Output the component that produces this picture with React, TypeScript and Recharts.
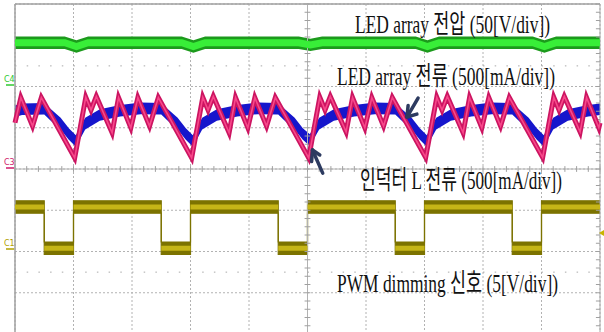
import { ComposedChart, Line, Area, XAxis, YAxis, CartesianGrid, ReferenceLine } from "recharts";

// scope screen in divisions: 10 across, 8 high (-4..4)
const xTicks = [0, 1, 2, 3, 4, 5, 6, 7, 8, 9, 10];
const yTicks = [-4, -3, -2, -1, 0, 1, 2, 3, 4];

// LED array voltage (green)
const greenX = [0, 0.85, 1.05, 1.25, 2.85, 3.05, 3.25, 4.85, 5.05, 5.25, 6.85, 7.05, 7.25, 8.85, 9.05, 9.25, 10];
const greenV = [3.06, 3.06, 2.97, 3.06, 3.06, 2.97, 3.06, 3.06, 3.01, 3.06, 3.06, 2.97, 3.06, 3.06, 2.97, 3.06, 3.06];

// LED array current (blue)
const blueX = [
  0, 0.12, 0.5, 0.62, 0.78, 0.92, 1.04, 1.2, 1.45, 1.8, 2.15,
  2.5, 2.62, 2.78, 2.92, 3.04, 3.2, 3.45, 3.8, 4.15,
  4.5, 4.62, 4.78, 4.92, 5.04, 5.2, 5.45, 5.8, 6.15,
  6.5, 6.62, 6.78, 6.92, 7.04, 7.2, 7.45, 7.8, 8.15,
  8.5, 8.62, 8.78, 8.92, 9.04, 9.2, 9.45, 9.8, 10,
];
const blueV = [
  1.4, 1.45, 1.46, 1.3, 1.1, 0.85, 0.68, 1.1, 1.31, 1.41, 1.47,
  1.46, 1.3, 1.1, 0.85, 0.68, 1.1, 1.31, 1.41, 1.47,
  1.46, 1.3, 1.1, 0.85, 0.7, 1.1, 1.31, 1.41, 1.47,
  1.46, 1.3, 1.1, 0.85, 0.68, 1.1, 1.31, 1.41, 1.47,
  1.46, 1.3, 1.1, 0.85, 0.68, 1.1, 1.31, 1.41, 1.45,
];

// inductor current (magenta)
const magX = [
  0, 0.1, 0.3, 0.45,
  1.02, 1.21, 1.3, 1.39, 1.66, 1.77, 1.98, 2.1, 2.3, 2.45,
  3.02, 3.21, 3.3, 3.39, 3.66, 3.77, 3.98, 4.1, 4.3, 4.45,
  5.02, 5.21, 5.3, 5.39, 5.66, 5.77, 5.98, 6.1, 6.3, 6.45,
  7.02, 7.21, 7.3, 7.39, 7.66, 7.77, 7.98, 8.1, 8.3, 8.45,
  9.02, 9.21, 9.3, 9.39, 9.66, 9.77, 9.98, 10,
];
const magV = [
  1.12, 1.73, 1.04, 1.73,
  0.27, 1.74, 1.43, 1.76, 0.88, 1.73, 1.0, 1.73, 1.04, 1.73,
  0.27, 1.74, 1.43, 1.76, 0.88, 1.73, 1.0, 1.73, 1.04, 1.73,
  0.27, 1.74, 1.43, 1.76, 0.9, 1.73, 1.0, 1.73, 1.04, 1.73,
  0.28, 1.74, 1.43, 1.76, 0.88, 1.73, 1.0, 1.73, 1.04, 1.73,
  0.28, 1.74, 1.43, 1.76, 0.9, 1.73, 1.0, 1.12,
];

// PWM dimming signal (olive)
const pwmFall = [0.5, 2.5, 4.5, 6.5, 8.5];
const pwmRise = [1, 3, 5, 7, 9];
const pwmHigh = -0.92;
const pwmLow = -1.92;

const greenW = 0.15;
const blueW = 0.14;
const pwmW = 0.15;

const greenData = greenX.map((x, i) => ({ x, v: greenV[i], band: [greenV[i] - greenW, greenV[i] + greenW] }));
const blueData = blueX.map((x, i) => ({ x, band: [blueV[i] - blueW, blueV[i] + blueW] }));
const magData = magX.map((x, i) => ({ x, v: magV[i] }));

// segments of the PWM square wave
const pwmSegs: { a: number; b: number; lv: number }[] = [];
{
  let start = 0;
  pwmFall.forEach((f, i) => {
    pwmSegs.push({ a: start, b: f, lv: pwmHigh });
    pwmSegs.push({ a: f, b: pwmRise[i], lv: pwmLow });
    start = pwmRise[i];
  });
  pwmSegs.push({ a: start, b: 10, lv: pwmHigh });
}
const pwmBand = pwmSegs.flatMap((s) => [
  { x: s.a, band: [s.lv - pwmW, s.lv + pwmW] },
  { x: s.b, band: [s.lv - pwmW, s.lv + pwmW] },
]);
const pwmCore = pwmSegs.flatMap((s) => [
  { x: s.a, v: s.lv },
  { x: s.b, v: s.lv },
  { x: s.b, v: null },
]);

// minor graticule ticks, 5 per division
const minorX = Array.from({ length: 51 }, (_, i) => +(i * 0.2).toFixed(1));
const minorY = Array.from({ length: 41 }, (_, i) => +(-4 + i * 0.2).toFixed(1));

// marker arrows (shaft + two head strokes), in divisions
const arrows = [
  [[6.89, 1.72], [6.7, 1.26], [6.72, 1.54], [6.87, 1.33]],
  [[5.26, -0.1], [5.085, 0.46], [5.07, 0.18], [5.21, 0.34]],
];

const labels = [
  { t: "LED array 전압 (50[V/div])", x: 355, y: 33, w: 195 },
  { t: "LED array 전류 (500[mA/div])", x: 337, y: 85, w: 218 },
  { t: "인덕터 L 전류 (500[mA/div])", x: 360, y: 189, w: 202 },
  { t: "PWM dimming 신호 (5[V/div])", x: 337, y: 292, w: 221 },
];

const grat = "#b2b2b2";
const navy = "#2d3b60";

export default function App() {
  return (
    <div style={{ position: "absolute", left: 0, top: 0, width: 604, height: 332, overflow: "hidden", background: "#fff" }}>
      <ComposedChart width={604} height={334} margin={{ top: 4, right: 4, left: 15, bottom: 0 }}>
        <XAxis dataKey="x" type="number" domain={[0, 10]} ticks={xTicks} hide />
        <YAxis type="number" domain={[-4, 4]} ticks={yTicks} hide />
        <CartesianGrid stroke={grat} strokeDasharray="2 2" />
        <ReferenceLine y={4} stroke="#a0a0a0" strokeWidth={1.5} />
        <ReferenceLine x={0} stroke="#a0a0a0" strokeWidth={1.5} />
        <ReferenceLine x={10} stroke="#a8a8a8" />
        <ReferenceLine x={5} stroke={grat} />
        <ReferenceLine y={0} stroke={grat} />
        <ReferenceLine y={2.5} stroke="#a8a8a8" strokeDasharray="1.5 10.2" />
        <ReferenceLine y={-2.5} stroke="#a8a8a8" strokeDasharray="1.5 10.2" />
        {minorX.map((x) => (
          <ReferenceLine key={"tx" + x} segment={[{ x, y: -0.07 }, { x, y: 0.07 }]} stroke="#a0a0a0" />
        ))}
        {minorY.map((y) => (
          <ReferenceLine key={"ty" + y} segment={[{ x: 4.95, y }, { x: 5.05, y }]} stroke="#a0a0a0" />
        ))}
        {minorY.map((y) => (
          <ReferenceLine key={"tr" + y} segment={[{ x: 9.93, y }, { x: 10, y }]} stroke="#a0a0a0" />
        ))}

        <Area data={greenData} dataKey="band" type="linear" fill="#1c9a1c" fillOpacity={1} stroke="none" isAnimationActive={false} />
        <Line data={greenData} dataKey="v" type="linear" stroke="#38ee38" strokeWidth={7} dot={false} isAnimationActive={false} />

        <Area data={blueData} dataKey="band" type="linear" fill="#1616cc" fillOpacity={1} stroke="none" isAnimationActive={false} />

        <Line data={magData} dataKey="v" type="linear" stroke="#cc1461" strokeWidth={5} dot={false} isAnimationActive={false} />
        <Line data={magData} dataKey="v" type="linear" stroke="#f7488a" strokeWidth={1.6} dot={false} isAnimationActive={false} />

        <Area data={pwmBand} dataKey="band" type="linear" fill="#7c7300" fillOpacity={1} stroke="#7c7300" strokeWidth={1.2} isAnimationActive={false} />
        <Line data={pwmCore} dataKey="v" type="linear" stroke="#c6b617" strokeWidth={5} dot={false} connectNulls={false} isAnimationActive={false} />

        {arrows.flatMap((a, i) => [
          <ReferenceLine key={"as" + i} segment={[{ x: a[0][0], y: a[0][1] }, { x: a[1][0], y: a[1][1] }]} stroke={navy} strokeWidth={3.5} strokeLinecap="round" />,
          <ReferenceLine key={"ah" + i} segment={[{ x: a[1][0], y: a[1][1] }, { x: a[2][0], y: a[2][1] }]} stroke={navy} strokeWidth={3.5} strokeLinecap="round" />,
          <ReferenceLine key={"ak" + i} segment={[{ x: a[1][0], y: a[1][1] }, { x: a[3][0], y: a[3][1] }]} stroke={navy} strokeWidth={3.5} strokeLinecap="round" />,
        ])}
      </ComposedChart>
      <svg width={604} height={332} style={{ position: "absolute", left: 0, top: 0, pointerEvents: "none" }}>
        {labels.map((l) => (
          <text
            key={l.t}
            x={l.x}
            y={l.y}
            textLength={l.w}
            lengthAdjust="spacingAndGlyphs"
            fontSize={26}
            fill="#111"
            fontFamily="'Liberation Serif', 'Noto Sans CJK KR', serif"
          >
            {l.t}
          </text>
        ))}
        <text x={4} y={82} fontSize={8} fill="#2fc82f" fontFamily="'DejaVu Sans', sans-serif">C4</text>
        <line x1={6} x2={14} y1={85} y2={85} stroke="#2fc82f" strokeWidth={1.5} />
        <text x={4} y={165} fontSize={8} fill="#d0186a" fontFamily="'DejaVu Sans', sans-serif">C3</text>
        <line x1={6} x2={14} y1={168} y2={168} stroke="#d0186a" strokeWidth={1.5} />
        <text x={4} y={246} fontSize={8} fill="#b0a000" fontFamily="'DejaVu Sans', sans-serif">C1</text>
        <line x1={6} x2={14} y1={249} y2={249} stroke="#b0a000" strokeWidth={1.5} />
        <polygon points="599,233 604,230 604,236" fill="#c8b400" />
      </svg>
    </div>
  );
}
